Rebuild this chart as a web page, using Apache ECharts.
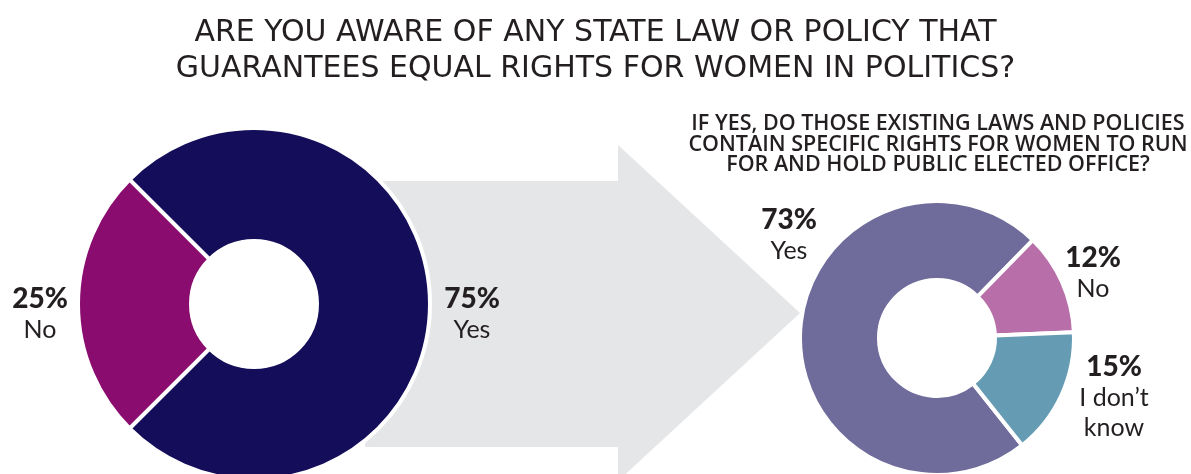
<!DOCTYPE html>
<html>
<head>
<meta charset="utf-8">
<script src="https://cdn.jsdelivr.net/npm/echarts@6/dist/echarts.min.js"></script>
<style>
  html, body { margin: 0; padding: 0; background: #ffffff; }
  #chart { width: 1191px; height: 474px; }
</style>
</head>
<body>
<div id="chart"></div>
<script>
// Question 1: awareness of a state law or policy
const awareCategories = ['Yes', 'No'];
const awareValues = [75, 25];
const awareColors = ['#140e5a', '#8a0c6e'];

// Question 2 (asked of those who said yes)
const rightsCategories = ['Yes', 'No', 'I don\u2019t\nknow'];
const rightsValues = [73, 12, 15];
const rightsColors = ['#6f6b9b', '#b76ea9', '#659cb4'];

const mainTitle = 'ARE YOU AWARE OF ANY STATE LAW OR POLICY THAT\nGUARANTEES EQUAL RIGHTS FOR WOMEN IN POLITICS?';
const subTitle = 'IF YES, DO THOSE EXISTING LAWS AND POLICIES\nCONTAIN SPECIFIC RIGHTS FOR WOMEN TO RUN\nFOR AND HOLD PUBLIC ELECTED OFFICE?';

const TEXT = '#231f20';
const FONT = 'Lato, "Open Sans", sans-serif';
const HEAD_FONT = '"DejaVu Sans", "Open Sans", sans-serif';
const SUB_FONT = '"Open Sans", Lato, sans-serif';

function toData(names, values, colors) {
  return names.map((n, i) => ({ name: n, value: values[i], itemStyle: { color: colors[i] } }));
}

const richLabel = {
  p: { fontFamily: FONT, fontSize: 28, fontWeight: 900, color: TEXT, lineHeight: 32, align: 'center' },
  n: { fontFamily: FONT, fontSize: 25, fontWeight: 'normal', color: TEXT, lineHeight: 30, align: 'center' }
};

function labelText(p) {
  return '{p|' + p.value + '%}\n{n|' + p.name + '}';
}

// label anchor points beside each donut
const awareLabelPos = [[472, 314], [40, 314]];
const rightsLabelPos = [[789, 235], [1093, 273], [1114, 397]];

function placeAt(positions) {
  return function (params) {
    const pt = positions[params.dataIndex];
    return { x: pt[0], y: pt[1], align: 'center', verticalAlign: 'middle', hideOverlap: false };
  };
}

const chart = echarts.init(document.getElementById('chart'), null, { renderer: 'canvas' });

chart.setOption({
  animation: false,
  backgroundColor: '#ffffff',
  title: [
    {
      text: mainTitle,
      left: 'center',
      top: 10,
      textStyle: { fontFamily: HEAD_FONT, fontSize: 30, fontWeight: 'normal', color: TEXT, lineHeight: 36 }
    },
    {
      text: subTitle,
      left: 933,
      textAlign: 'center',
      top: 109,
      textStyle: { fontFamily: SUB_FONT, fontSize: 21.5, fontWeight: 600, color: TEXT, lineHeight: 20.5 }
    }
  ],
  graphic: [
    {
      type: 'polygon',
      z: 0,
      silent: true,
      shape: {
        points: [[365, 181], [618, 181], [618, 145], [800, 313], [618, 481], [618, 447], [365, 447]]
      },
      style: { fill: '#e5e6e8' }
    }
  ],
  series: [
    {
      type: 'pie',
      z: 5,
      center: [254, 304],
      radius: [63, 176],
      startAngle: 135,
      clockwise: true,
      silent: true,
      itemStyle: { borderColor: '#ffffff', borderWidth: 4 },
      label: { show: true, position: 'inside', overflow: 'none', formatter: labelText, rich: richLabel },
      labelLine: { show: false },
      labelLayout: placeAt(awareLabelPos),
      data: toData(awareCategories, awareValues, awareColors)
    },
    {
      type: 'pie',
      z: 5,
      center: [937, 338],
      radius: [58, 137],
      startAngle: 308.4,
      clockwise: true,
      silent: true,
      itemStyle: { borderColor: '#ffffff', borderWidth: 4 },
      label: { show: true, position: 'inside', overflow: 'none', formatter: labelText, rich: richLabel },
      labelLine: { show: false },
      labelLayout: placeAt(rightsLabelPos),
      data: toData(rightsCategories, rightsValues, rightsColors)
    }
  ]
});
</script>
</body>
</html>
